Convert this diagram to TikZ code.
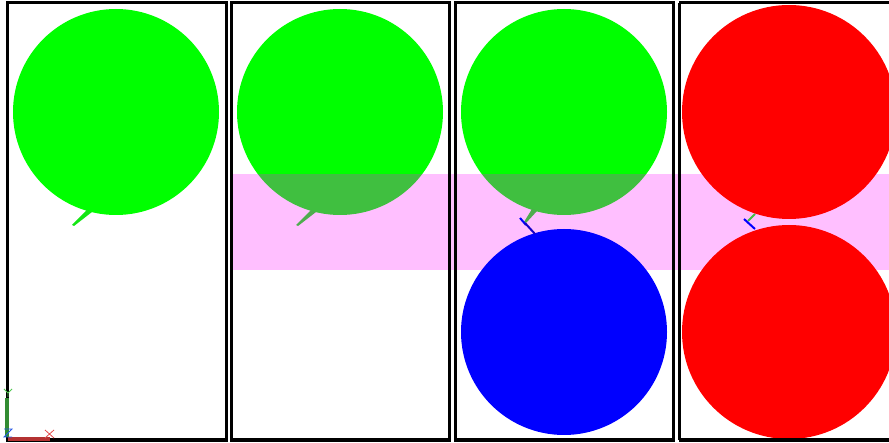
\documentclass[tikz,border=0pt]{standalone}
\begin{document}
\begin{tikzpicture}[x=1pt,y=-1pt,
  panel/.style={draw=black,line width=3pt},
  gcirc/.style={fill={rgb,255:red,0;green,255;blue,0}},
  bcirc/.style={fill={rgb,255:red,0;green,0;blue,255}},
  rcirc/.style={fill={rgb,255:red,255;green,0;blue,0}},
  band/.style={fill={rgb,255:red,255;green,0;blue,255},fill opacity=0.25},
  gtail/.style={fill={rgb,255:red,20;green,230;blue,20}},
  gtick/.style={draw={rgb,255:red,0;green,255;blue,0},line width=2pt},
  btick/.style={draw={rgb,255:red,0;green,0;blue,255},line width=2pt}]
\useasboundingbox (0,0) rectangle (889,443);
\fill[white] (0,0) rectangle (889,443);
% green circles (panels 1-3)
\fill[gcirc] (116,112) circle (103);
\fill[gtail] (87,210) -- (92,212) -- (74,226) -- (72,225) -- cycle;
\fill[gcirc] (340,112) circle (103);
\fill[gtail] (311,210) -- (316,212) -- (298,226) -- (296,225) -- cycle;
\fill[gcirc] (564,112) circle (103);
\fill[gtail] (532,209) -- (537,211) -- (526,223) -- (524,222) -- cycle;
\draw[gtick] (755,214) -- (748,221);
% translucent band
\fill[band] (232,174) rectangle (889,270);
% panel 3 blue circle and ticks
\fill[bcirc] (564,332) circle (103);
\draw[btick] (520,218) -- (526,225);
\draw[btick,draw={rgb,255:red,20;green,0;blue,200}] (525,223) -- (535,234);
% panel 4 red circles and ticks
\draw[btick] (744,219) -- (755,229);
\fill[rcirc] (789,112) circle (107);
\fill[rcirc] (789,332) circle (107);
% panels
\draw[panel] (7,3) rectangle (226,440);
\draw[panel] (231,3) rectangle (449,440);
\draw[panel] (455,3) rectangle (673,440);
\draw[panel] (679,3) -- (679,440);
\draw[panel] (679,3) -- (895,3);
\draw[panel] (679,440) -- (895,440);
% axis indicator
\draw[draw={rgb,255:red,50;green,140;blue,50},line width=4pt] (7,398) -- (7,437);
\draw[draw={rgb,255:red,180;green,50;blue,50},line width=3pt] (8,439) -- (50,439);
\draw[draw={rgb,255:red,80;green,200;blue,80},line width=0.8pt] (4,389) -- (8,393) -- (12,389) (8,393) -- (8,397);
\draw[draw={rgb,255:red,230;green,80;blue,80},line width=0.8pt] (45,430) -- (54,438) (54,430) -- (45,438);
\draw[draw={rgb,255:red,40;green,90;blue,230},line width=0.8pt] (4,429) -- (12,429) -- (4,437) -- (12,437);
\end{tikzpicture}
\end{document}
